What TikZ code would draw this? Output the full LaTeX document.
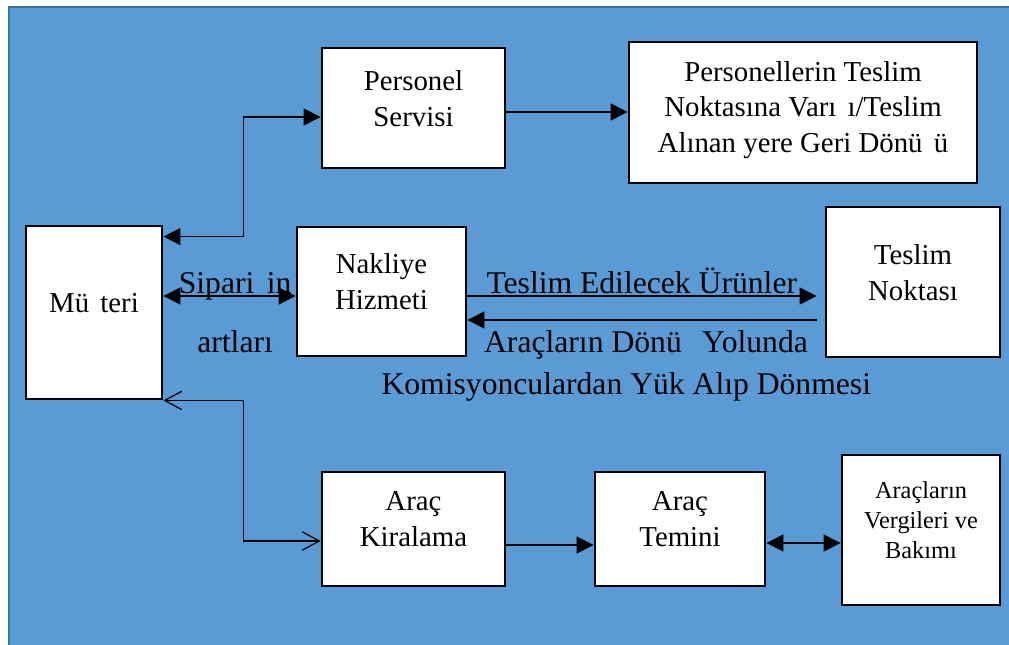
\documentclass[tikz,border=0pt]{standalone}
\usepackage{fontspec}
\setmainfont{Liberation Serif}
\usetikzlibrary{calc,arrows.meta}
\definecolor{panelblue}{HTML}{5B9BD5}
\definecolor{paneledge}{HTML}{41719C}
\newcommand\nogl{\hspace{0.39em}}

\begin{document}
\begin{tikzpicture}[x=0.025cm,y=-0.025cm,
                >={Triangle[length=12pt,width=12pt]},
                box/.style={draw,fill=white,line width=2pt,align=center,
                    font=\fontsize{20.5}{25.5}\selectfont,text depth=14pt},
                link/.style={line width=0.9pt},
                barbs/.style={{Straight Barb[length=12pt,width=13pt]}-{Straight Barb[length=12pt,width=13pt]}},
                lbl/.style={inner sep=0pt,anchor=base,font=\fontsize{22.5}{25.5}\selectfont}]
                \useasboundingbox (0,0) rectangle (1009,645);
                \clip (0,0) rectangle (1009,645);
                \fill[white] (0,0) rectangle (1009,645);
                \filldraw[fill=panelblue,draw=paneledge,line width=1.5pt] (9,7) rectangle (1016,652);

                % boxes
                \node[box,minimum width=3.4cm,minimum height=4.325cm] (musteri) at (94,312.5) {Mü\nogl teri};
                \node[box,minimum width=4.575cm,minimum height=3cm] (personel) at (413.5,108) {Personel\\Servisi};
                \node[box,minimum width=8.7cm,minimum height=3.525cm,text depth=8pt] (varis) at (803,112.5)
                    {Personellerin Teslim\\Noktasına Varı\nogl ı/Teslim\\Alınan yere Geri Dönü\nogl ü};
                \node[box,minimum width=4.225cm,minimum height=3.225cm] (nakliye) at (381.5,291.5) {Nakliye\\Hizmeti};
                \node[box,minimum width=4.35cm,minimum height=3.75cm] (teslim) at (913,282) {Teslim\\Noktası};
                \node[box,minimum width=4.575cm,minimum height=2.85cm] (kiralama) at (413.5,529) {Araç\\Kiralama};
                \node[box,minimum width=4.25cm,minimum height=2.85cm] (temin) at (680,529) {Araç\\Temini};
                \node[box,minimum width=3.95cm,minimum height=3.75cm,font=\fontsize{17.3}{21.3}\selectfont] (bakim) at (921,530)
                    {Araçların\\Vergileri ve\\Bakımı};

                % connectors
                \draw[link,<->] ($(musteri.north east)+(0,12)$) -- ++(80,0) |- ($(personel.west)+(0,9)$);
                \draw[link,->] ($(personel.east)+(0,4)$) coordinate (p1) -- (p1 -| varis.west);
                \draw[link,<->] ($(musteri.east)+(0,-16.5)$) coordinate (m1) -- (m1 -| nakliye.west)
                    node[lbl,midway,xshift=4pt,yshift=2pt] (sip) {Sipari\nogl in}
                    node[lbl,midway,xshift=4pt,yshift=-40pt] (sart) {artları};
                \draw[link,->,shorten >=0.2cm] ($(nakliye.east)+(0,4.5)$) coordinate (n1) -- (n1 -| teslim.west)
                    node[lbl,midway,xshift=-3pt,yshift=2pt] (urun) {Teslim Edilecek Ürünler};
                \draw[link,->,shorten <=0.2cm] ($(teslim.west)+(0,38)$) coordinate (t1) -- (t1 -| nakliye.east)
                    node[lbl,midway,yshift=-23pt] (donus) {Araçların Dönü\nogl\ Yolunda}
                    node[lbl,midway,xshift=-14pt,yshift=-53pt] (komis) {Komisyonculardan Yük Alıp Dönmesi};
                \draw[link,barbs] (musteri.south east) -- ++(80,0) |- ($(kiralama.west)+(0,12)$);
                \draw[link,->] ($(kiralama.east)+(0,16)$) coordinate (k1) -- (k1 -| temin.west);
                \draw[link,<->] ($(temin.east)+(0,14)$) coordinate (e1) -- (e1 -| bakim.west);
\end{tikzpicture}
\end{document}
